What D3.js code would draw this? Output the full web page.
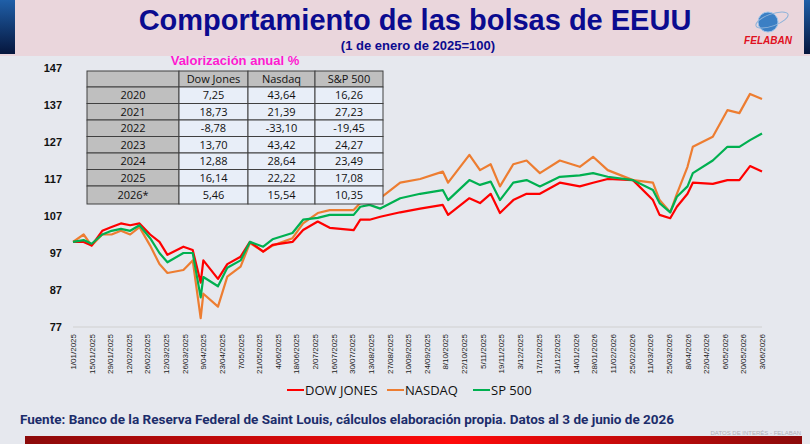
<!DOCTYPE html>
<html>
<head>
<meta charset="utf-8">
<script src="https://cdn.jsdelivr.net/npm/d3@7"></script>
<style>
  body { margin: 0; background: #e6e8ee; }
  svg { display: block; font-family: "Liberation Sans", Arial, sans-serif; }
</style>
</head>
<body>
<div id="chart"></div>
<script>
// days since 1 Jan 2025
const days = [0,8,14,22,29,36,43,50,58,65,71,83,90,96,98,109,116,126,133,143,150,165,
  173,184,193,211,216,223,231,246,261,278,282,298,306,314,321,331,341,
  351,366,381,391,402,421,436,441,449,454,462,466,481,492,501,509,518];
const dowJones = [100,100,99,103,104,105,104.5,105,102,100,96.5,98.7,97.8,89,95,90,94,96,100,97.4,99.2,100,
  103.2,105.5,103.8,103.2,106,106,106.8,108,109,110,107.3,111.8,110.5,113,107.8,111.3,113,
  113,116,115,116,117,116.7,111.3,107.3,106.4,109.5,113,116,115.7,116.7,116.7,120.5,119];
const nasdaq = [100,102,99,102,102,103,102,104,99,94,91.6,92.4,95,79.4,86,82.5,90.6,93.3,99.7,97.4,99,101,
  105,107.8,108.6,108.6,110.5,112.2,111.8,116,117,119,116,123.5,119.4,121,115,121,122,
  118.6,122,120.3,123,119.4,116.7,116,111.3,108,113,120.3,125.7,128.4,135.6,134.8,140,138.6];
const sp500 = [100,100.5,99.5,102,103,103.5,103,104.5,101,97,94.5,97,97,85,90.5,88,93,95,100,98.7,100.7,102.4,
  106,106.5,107.3,107.3,109.5,110,109,111.8,113,114,111.3,116.7,115.4,116.3,111.3,116,116.7,
  115,117.6,118,118.6,117.6,116.7,114,110.5,108,112.2,115,118.6,122,125.7,125.7,127.5,129.3];
const yTicks = [77,87,97,107,117,127,137,147];
const tableHead = ["", "Dow Jones", "Nasdaq", "S&P 500"];
const tableYears = ["2020","2021","2022","2023","2024","2025","2026*"];
const tableDJ = ["7,25","18,73","-8,78","13,70","12,88","16,14","5,46"];
const tableNQ = ["43,64","21,39","-33,10","43,42","28,64","22,22","15,54"];
const tableSP = ["16,26","27,23","-19,45","24,27","23,49","17,08","10,35"];
const series = [
  {name: "DOW JONES", values: dowJones, color: "#ff0000"},
  {name: "NASDAQ", values: nasdaq, color: "#ed7d31"},
  {name: "SP 500", values: sp500, color: "#00b050"}
];

const W = 810, H = 444;
const svg = d3.select("#chart").append("svg").attr("width", W).attr("height", H);

// background + header
const defs = svg.append("defs");
const bar = defs.append("linearGradient").attr("id", "bar");
bar.append("stop").attr("offset", "0%").attr("stop-color", "#8b0a0a");
bar.append("stop").attr("offset", "55%").attr("stop-color", "#ff0a0a");
bar.append("stop").attr("offset", "100%").attr("stop-color", "#8b0a0a");
const side = defs.append("linearGradient").attr("id", "side").attr("x2", "0").attr("y2", "1");
side.append("stop").attr("offset", "0%").attr("stop-color", "#1f5fa8");
side.append("stop").attr("offset", "100%").attr("stop-color", "#06163d");

svg.append("rect").attr("width", W).attr("height", H).attr("fill", "#e6e8ee");
svg.append("rect").attr("width", W).attr("height", 56).attr("fill", "#ead6dc");
svg.append("rect").attr("x", 0).attr("width", 15).attr("height", 54).attr("fill", "url(#side)");
svg.append("rect").attr("x", 804).attr("width", 6).attr("height", 54).attr("fill", "url(#side)");

svg.append("text").attr("x", 415).attr("y", 30).attr("text-anchor", "middle")
  .attr("font-size", 29).attr("font-weight", "bold").attr("fill", "#0b0b8f")
  .text("Comportamiento de las bolsas de EEUU");
svg.append("text").attr("x", 418).attr("y", 50).attr("text-anchor", "middle")
  .attr("font-size", 13).attr("font-weight", "bold").attr("fill", "#0b0b8f")
  .text("(1 de enero de 2025=100)");

// logo
svg.append("circle").attr("cx", 768).attr("cy", 22).attr("r", 10).attr("fill", "#3b7fc4").attr("stroke", "#9cc4ea");
svg.append("ellipse").attr("cx", 772).attr("cy", 20).attr("rx", 17).attr("ry", 6).attr("fill", "none")
  .attr("stroke", "#8fb3d9").attr("transform", "rotate(-20,772,20)");
svg.append("text").attr("x", 768).attr("y", 44).attr("text-anchor", "middle").attr("font-size", 10)
  .attr("font-weight", "bold").attr("font-style", "italic").attr("fill", "#e01020").text("FELABAN");

// chart
const x = d3.scaleLinear().domain([0, 518]).range([73, 762]);
const y = d3.scaleLinear().domain([77, 147]).range([327, 68]);

svg.append("line").attr("x1", 73).attr("x2", 762).attr("y1", y(77)).attr("y2", y(77)).attr("stroke", "#d0d0d0");

svg.append("g").selectAll("text").data(yTicks).join("text")
  .attr("x", 62).attr("y", d => y(d) + 4).attr("text-anchor", "end")
  .attr("font-size", 11).attr("font-weight", "bold").attr("fill", "#111").text(d => d);

const fmt = d3.timeFormat("%-d/%m/%Y");
const xTicks = d3.range(0, 519, 14);
svg.append("g").selectAll("text").data(xTicks).join("text")
  .attr("transform", d => `translate(${x(d) + 3},334) rotate(-90)`)
  .attr("text-anchor", "end").attr("font-size", 8).attr("fill", "#222")
  .text(d => fmt(new Date(2025, 0, 1 + d)));

const line = d3.line().x((d, i) => x(days[i])).y(d => y(d));
svg.append("g").selectAll("path").data([series[1], series[0], series[2]]).join("path")
  .attr("d", d => line(d.values)).attr("fill", "none")
  .attr("stroke", d => d.color).attr("stroke-width", 2.2).attr("stroke-linejoin", "round");

// legend
const leg = svg.append("g").selectAll("g").data(series).join("g")
  .attr("transform", (d, i) => `translate(${[287, 387, 473][i]},390)`);
leg.append("line").attr("x1", 0).attr("x2", 17).attr("stroke", d => d.color).attr("stroke-width", 2);
leg.append("text").attr("x", 18).attr("y", 5).attr("font-size", 13).attr("fill", "#111")
  .attr("font-family", "Open Sans, sans-serif").text(d => d.name);

// table
svg.append("text").attr("x", 235).attr("y", 65).attr("text-anchor", "middle")
  .attr("font-size", 13).attr("font-weight", "bold").attr("fill", "#ff1ad0").text("Valorización anual %");
const colX = [87, 179, 248, 315, 383];
const rowY = d3.range(8).map(i => i === 0 ? 71 : 87 + (i - 1) * 16.5);
rowY.push(204);
const rows = [tableHead].concat(tableYears.map((yr, i) => [yr, tableDJ[i], tableNQ[i], tableSP[i]]));
const tbl = svg.append("g").attr("font-family", "Open Sans, sans-serif");
rows.forEach((r, ri) => {
  r.forEach((c, ci) => {
    const gray = ri === 0 || ci === 0;
    tbl.append("rect").attr("x", colX[ci]).attr("y", rowY[ri])
      .attr("width", colX[ci + 1] - colX[ci]).attr("height", rowY[ri + 1] - rowY[ri])
      .attr("fill", gray ? "#bfbfbf" : "#e8eef8").attr("stroke", "#404040").attr("stroke-width", 1);
    tbl.append("text").attr("x", (colX[ci] + colX[ci + 1]) / 2).attr("y", (rowY[ri] + rowY[ri + 1]) / 2 + 4)
      .attr("text-anchor", "middle").attr("font-size", 11).attr("fill", "#111").text(c);
  });
});

// footer
svg.append("text").attr("x", 20).attr("y", 424).attr("font-size", 13.5).attr("font-weight", "bold")
  .attr("font-family", "Roboto, sans-serif").attr("fill", "#1c2d6b")
  .text("Fuente: Banco de la Reserva Federal de Saint Louis, cálculos elaboración propia. Datos al 3 de junio de 2026");
svg.append("text").attr("x", 801).attr("y", 435).attr("text-anchor", "end").attr("font-size", 6)
  .attr("fill", "#b0b0b8").text("DATOS DE INTERÉS - FELABAN");
svg.append("rect").attr("x", 25).attr("y", 436).attr("width", 777).attr("height", 8).attr("fill", "url(#bar)");
</script>
</body>
</html>
